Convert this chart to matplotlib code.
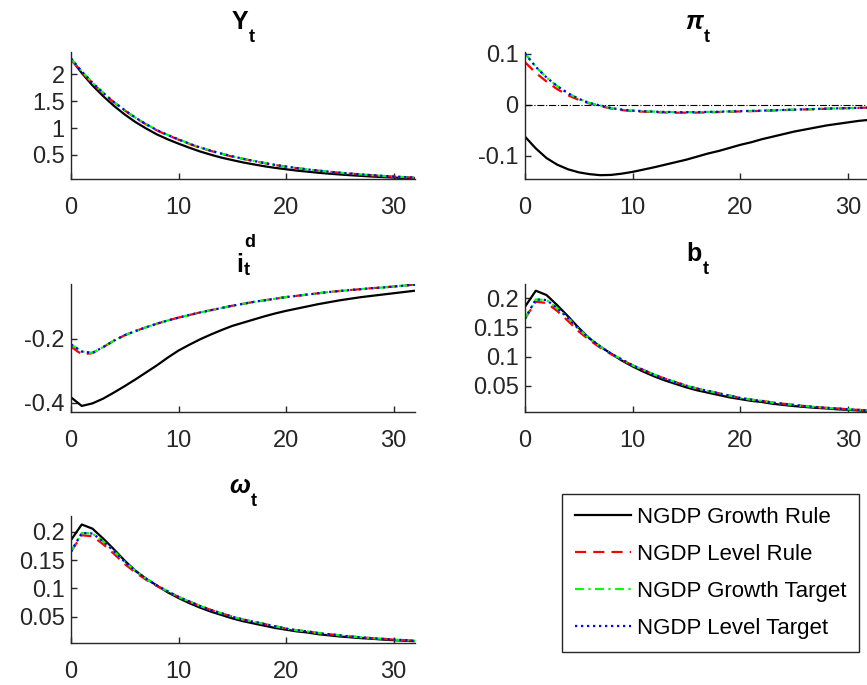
import numpy as np
import matplotlib
matplotlib.use('Agg')
import matplotlib.pyplot as plt
from matplotlib.transforms import IdentityTransform

plt.rcParams['font.family'] = ['Liberation Sans', 'DejaVu Sans']

# Horizon (quarters)
t = np.arange(33)

labels = ['NGDP Growth Rule', 'NGDP Level Rule', 'NGDP Growth Target', 'NGDP Level Target']

# Output Y_t
y_growth_rule = [2.28, 2.02, 1.79, 1.59, 1.41, 1.25, 1.11, 0.99, 0.88, 0.79, 0.71,
                 0.635, 0.565, 0.505, 0.45, 0.405, 0.362, 0.325, 0.29, 0.26, 0.235,
                 0.21, 0.19, 0.17, 0.153, 0.138, 0.124, 0.112, 0.10, 0.09, 0.081, 0.073, 0.066]
y_level_rule = [2.27, 2.04, 1.83, 1.645, 1.475, 1.325, 1.185, 1.065, 0.955, 0.865, 0.785,
                0.705, 0.635, 0.575, 0.52, 0.47, 0.427, 0.387, 0.348, 0.313, 0.283,
                0.255, 0.23, 0.208, 0.188, 0.169, 0.153, 0.138, 0.124, 0.111, 0.099, 0.089, 0.079]
y_growth_target = [2.29, 2.05, 1.84, 1.65, 1.48, 1.33, 1.19, 1.07, 0.96, 0.87, 0.79,
                   0.71, 0.64, 0.58, 0.525, 0.475, 0.43, 0.39, 0.35, 0.315, 0.285,
                   0.257, 0.232, 0.21, 0.19, 0.17, 0.154, 0.139, 0.125, 0.112, 0.10, 0.09, 0.08]
y_level_target = y_growth_target

# Inflation pi_t
pi_growth_rule = [-0.063, -0.086, -0.105, -0.118, -0.127, -0.133, -0.1365, -0.1385, -0.138,
                  -0.1355, -0.132, -0.1275, -0.123, -0.118, -0.113, -0.108, -0.102, -0.096,
                  -0.091, -0.085, -0.079, -0.074, -0.068, -0.063, -0.058, -0.053, -0.049,
                  -0.045, -0.041, -0.038, -0.035, -0.032, -0.030]
pi_level_rule = [0.083, 0.062, 0.045, 0.030, 0.018, 0.009, 0.002, -0.003, -0.008, -0.011,
                 -0.013, -0.014, -0.015, -0.0155, -0.016, -0.016, -0.0158, -0.0153, -0.0148,
                 -0.0142, -0.0135, -0.013, -0.0124, -0.0117, -0.011, -0.0103, -0.0096,
                 -0.009, -0.0083, -0.0077, -0.0071, -0.0066, -0.006]
pi_growth_target = [0.100, 0.074, 0.053, 0.036, 0.022, 0.011, 0.003, -0.002, -0.007, -0.010,
                    -0.012, -0.013, -0.014, -0.0145, -0.015, -0.015, -0.0148, -0.0145, -0.014,
                    -0.0135, -0.013, -0.0125, -0.012, -0.0113, -0.0106, -0.010, -0.0093,
                    -0.0087, -0.008, -0.0075, -0.007, -0.0065, -0.006]
pi_level_target = pi_growth_target

# Deposit rate i_t^d
i_growth_rule = [-0.383, -0.410, -0.402, -0.387, -0.368, -0.348, -0.327, -0.305, -0.283,
                 -0.259, -0.237, -0.219, -0.202, -0.187, -0.173, -0.160, -0.150, -0.140,
                 -0.130, -0.121, -0.113, -0.106, -0.099, -0.092, -0.086, -0.080, -0.075,
                 -0.070, -0.066, -0.062, -0.058, -0.054, -0.050]
i_level_rule = [-0.225, -0.249, -0.245, -0.226, -0.206, -0.189, -0.176, -0.164, -0.153,
                -0.143, -0.134, -0.126, -0.118, -0.111, -0.104, -0.097, -0.091, -0.085,
                -0.080, -0.075, -0.070, -0.066, -0.062, -0.058, -0.054, -0.051, -0.048,
                -0.045, -0.042, -0.040, -0.037, -0.034, -0.031]
i_growth_target = [-0.218, -0.240, -0.244, -0.226, -0.206, -0.189, -0.176, -0.164, -0.153,
                   -0.143, -0.134, -0.126, -0.118, -0.111, -0.104, -0.097, -0.091, -0.085,
                   -0.080, -0.075, -0.070, -0.066, -0.062, -0.058, -0.054, -0.051, -0.048,
                   -0.045, -0.042, -0.040, -0.037, -0.034, -0.031]
i_level_target = i_growth_target

# Bonds b_t
b_growth_rule = [0.1855, 0.213, 0.2056, 0.188, 0.169, 0.149, 0.131, 0.117, 0.105, 0.093,
                 0.083, 0.074, 0.066, 0.059, 0.053, 0.047, 0.042, 0.038, 0.034, 0.030,
                 0.027, 0.024, 0.022, 0.019, 0.017, 0.015, 0.0135, 0.012, 0.011, 0.0095,
                 0.0085, 0.0075, 0.0067]
b_level_rule = [0.165, 0.194, 0.192, 0.178, 0.161, 0.143, 0.128, 0.115, 0.104, 0.094,
                0.085, 0.077, 0.069, 0.062, 0.056, 0.050, 0.045, 0.041, 0.037, 0.033,
                0.029, 0.026, 0.024, 0.021, 0.019, 0.017, 0.015, 0.0135, 0.012, 0.011,
                0.0095, 0.0085, 0.0075]
b_growth_target = [0.165, 0.198, 0.197, 0.183, 0.166, 0.147, 0.131, 0.117, 0.105, 0.095,
                   0.085, 0.077, 0.069, 0.062, 0.056, 0.050, 0.045, 0.041, 0.037, 0.033,
                   0.029, 0.026, 0.024, 0.021, 0.019, 0.017, 0.015, 0.0135, 0.012, 0.011,
                   0.0095, 0.0085, 0.0075]
b_level_target = b_growth_target

# omega_t
w_growth_rule = b_growth_rule
w_level_rule = b_level_rule
w_growth_target = b_growth_target
w_level_target = b_growth_target

# title pieces: main symbol, subscript, superscript, italic main
titles = [('Y', 't', None, False), ('π', 't', None, True), ('i', 't', 'd', False),
          ('b', 't', None, False), ('ω', 't', None, True)]

panels = [
    ([y_growth_rule, y_level_rule, y_growth_target, y_level_target],
     (0.054, 2.41), [0.5, 1, 1.5, 2], ['0.5', '1', '1.5', '2']),
    ([pi_growth_rule, pi_level_rule, pi_growth_target, pi_level_target],
     (-0.146, 0.103), [-0.1, 0, 0.1], ['-0.1', '0', '0.1']),
    ([i_growth_rule, i_level_rule, i_growth_target, i_level_target],
     (-0.428, -0.030), [-0.4, -0.2], ['-0.4', '-0.2']),
    ([b_growth_rule, b_level_rule, b_growth_target, b_level_target],
     (0.0054, 0.224), [0.05, 0.1, 0.15, 0.2], ['0.05', '0.1', '0.15', '0.2']),
    ([w_growth_rule, w_level_rule, w_growth_target, w_level_target],
     (0.004, 0.228), [0.05, 0.1, 0.15, 0.2], ['0.05', '0.1', '0.15', '0.2']),
]

# line styles: solid black, dashed red, dash-dot green, dotted blue
styles = [dict(color='k', ls='-', lw=1.6),
          dict(color='#ff0000', ls=(0, (5, 3.2)), lw=1.6),
          dict(color='#00ff00', ls=(0, (4, 2, 1, 2)), lw=1.6),
          dict(color='#0000ff', ls=(0, (1, 1.7)), lw=1.6)]

W, H = 867, 685
# axes boxes in pixels: left, top, width, height
boxes = [(71, 52, 344, 127), (525, 52, 344.6, 127),
         (71, 284.3, 344, 127.4), (525, 284.3, 344.6, 127.4),
         (71, 516, 344, 126.7)]

fig = plt.figure(figsize=(W / 100, H / 100), dpi=100)
grey = '#262626'
axes = []
handles = []
for (series, ylim, yt, ytl), (l, tp, w, h) in zip(panels, boxes):
    ax = fig.add_axes([l / W, 1 - (tp + h) / H, w / W, h / H])
    if series[0] is pi_growth_rule:
        ax.axhline(0, color='k', ls='-.', lw=0.8)
    handles = []
    for s, st in zip(series, styles):
        ln, = ax.plot(t, s, **st)
        handles.append(ln)
    ax.set_xlim(0, 32)
    ax.set_ylim(*ylim)
    ax.set_xticks([0, 10, 20, 30])
    ax.set_yticks(yt)
    ax.set_yticklabels(ytl)
    ax.spines['top'].set_visible(False)
    ax.spines['right'].set_visible(False)
    for sp in ['left', 'bottom']:
        ax.spines[sp].set_color(grey)
        ax.spines[sp].set_linewidth(1.0)
    ax.tick_params(axis='both', direction='in', length=4, width=1.0, color=grey,
                   labelcolor=grey, labelsize=17)
    ax.tick_params(axis='x', pad=13)
    ax.tick_params(axis='y', pad=4.5)
    axes.append(ax)

# titles built from pieces so the subscript sits low like the original
renderer = fig.canvas.get_renderer()
ident = IdentityTransform()
for ax, (main, sub, sup, ital) in zip(axes, titles):
    pos = ax.get_position()
    top = pos.y1 * H
    cx = (pos.x0 + pos.x1) / 2 * W
    if sup:
        base, subbase, supbase = top + 12, top + 9, top + 37
    else:
        base, subbase, supbase = top + 23, top + 10, None
    tm = fig.text(0, base, main, fontsize=18, fontweight='bold',
                  style='italic' if ital else 'normal', ha='left', va='baseline',
                  transform=ident)
    ts = fig.text(0, subbase, sub, fontsize=13, fontweight='bold',
                  ha='left', va='baseline', transform=ident)
    wm = tm.get_window_extent(renderer).width
    ws = ts.get_window_extent(renderer).width
    x0 = cx - (wm + ws) / 2
    tm.set_x(x0)
    ts.set_x(x0 + wm + 0.5)
    if sup:
        fig.text(x0 + wm + 0.5, supbase, sup, fontsize=13, fontweight='bold',
                 ha='left', va='baseline', transform=ident)

fig.legend(handles, labels, loc='center',
           bbox_to_anchor=((556 + 865) / 2 / W, 1 - 573 / H),
           fontsize=16, frameon=True, fancybox=False, framealpha=1,
           edgecolor=grey, handlelength=2.5, handletextpad=0.27,
           labelspacing=0.72, borderpad=0.6)

fig.savefig('out.png', dpi=100)
